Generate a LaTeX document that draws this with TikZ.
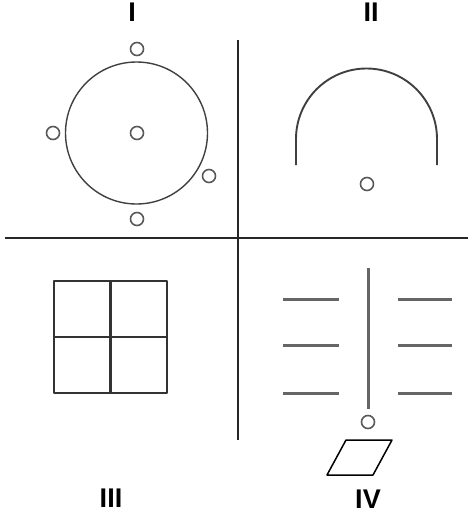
\documentclass[tikz,border=0pt]{standalone}
\usepackage{fontspec}
\setmainfont{Liberation Sans}
\usetikzlibrary{shapes.geometric}
\begin{document}
\begin{tikzpicture}[x=1pt,y=-1pt,
  divider/.style={draw=black!85,line width=1.6pt},
  ring/.style={circle,draw=black!65,line width=1.6pt,minimum size=13pt,inner sep=0pt},
  bigring/.style={circle,draw=black!75,line width=1.4pt,minimum size=142pt,inner sep=0pt},
  arch/.style={draw=black!75,line width=1.9pt},
  grid/.style={draw=black!80,line width=2.2pt,line join=round},
  bar/.style={draw=black!60,line width=3pt},
  para/.style={draw=black,line width=1.5pt,line join=round},
  numeral/.style={font=\fontsize{27}{31}\selectfont\bfseries,inner sep=0pt}]
\useasboundingbox (0,0) rectangle (468,517);
% dividers
\draw[divider] (5,238) -- (468,238);
\draw[divider] (238,40) -- (238,440);
% labels
\node[numeral] (l1) at (132,12.5) {I};
\node[numeral] (l2) at (371,12.5) {II};
\node[numeral] (l3) at (111,498) {III};
\node[numeral] (l4) at (368,499) {IV};
% panel I
\node[bigring] (big) at (136.5,133) {};
\node[ring] (ctop) at (137,49) {};
\node[ring] (cleft) at (53,133) {};
\node[ring] (cmid) at (137,133) {};
\node[ring] (cright) at (209,176) {};
\node[ring] (cbot) at (137,219) {};
% panel II
\draw[arch] (296,165) -- (296,139) arc[start angle=180,end angle=360,radius=70.5] -- (437,165);
\node[ring] (c2) at (367,184) {};
% panel III
\draw[grid] (54,281) rectangle (167,393);
\draw[grid] (110.5,281) -- (110.5,393);
\draw[grid] (54,337) -- (167,337);
% panel IV
\draw[bar] (368,268) -- (368,409);
\node[ring] (c4) at (368,422) {};
\foreach \yy in {299,345,393}{
  \draw[bar] (283,\yy) -- (339,\yy);
  \draw[bar] (398,\yy) -- (452,\yy);
}
\draw[para] (346,440) -- (392,440) -- (373,475) -- (327,475) -- cycle;
\end{tikzpicture}
\end{document}
